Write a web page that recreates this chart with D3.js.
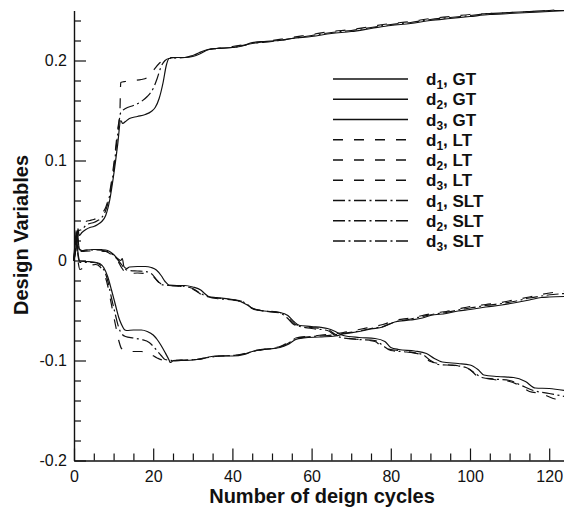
<!DOCTYPE html>
<html>
<head>
<meta charset="utf-8">
<script src="https://cdn.jsdelivr.net/npm/d3@7"></script>
<style>
  html, body { margin: 0; padding: 0; background: #fff; }
  svg { display: block; font-family: "Liberation Sans", Arial, sans-serif; }
</style>
</head>
<body>
<svg id="chart" width="564" height="510"></svg>
<script>
// Design variable histories: [cycle, value]
const d1GT = [[0,0],[0.5,0.012],[1,0.032],[1.3,0.025],[2,0.028],[3,0.031],[4,0.033],[5,0.034],[6,0.036],[7,0.039],[8,0.045],[9,0.06],[10,0.085],[11,0.115],[11.8,0.14],[12.3,0.137],[13,0.139],[14,0.142],[16,0.144],[18,0.146],[19.5,0.149],[20.5,0.153],[21.5,0.162],[22.5,0.178],[23.3,0.195],[24,0.202],[26,0.203],[28,0.203],[30,0.204],[32,0.207],[34,0.211],[36,0.212],[40,0.213],[43,0.215],[45,0.218],[48,0.219],[52,0.220],[55,0.222],[60,0.224],[65,0.227],[70,0.229],[75,0.232],[80,0.235],[85,0.237],[90,0.240],[95,0.242],[100,0.244],[105,0.246],[110,0.247],[115,0.248],[120,0.249],[124,0.250]];
const d1LT = [[0,0],[0.7,0.02],[1.2,0.03],[2,0.033],[3,0.039],[4,0.04],[5,0.041],[6,0.043],[7,0.047],[8,0.053],[9,0.068],[10,0.095],[11,0.13],[11.6,0.15],[11.8,0.178],[13,0.179],[15,0.180],[17,0.181],[18.5,0.183],[20,0.19],[21.5,0.197],[22.5,0.2],[24,0.203],[28,0.203],[30,0.205],[33,0.21],[36,0.212],[40,0.214],[45,0.217],[50,0.220],[55,0.223],[60,0.226],[65,0.229],[70,0.231],[75,0.234],[80,0.237],[85,0.239],[90,0.242],[95,0.244],[100,0.246],[105,0.247],[110,0.248],[115,0.249],[120,0.25],[124,0.251]];
const d1SLT = [[0,0],[0.7,0.02],[1.2,0.03],[2,0.031],[3,0.035],[4,0.037],[5,0.038],[6,0.04],[7,0.043],[8,0.05],[9,0.065],[10,0.09],[11,0.125],[11.8,0.148],[13,0.152],[15,0.155],[17,0.159],[18.5,0.164],[20,0.172],[21,0.182],[22,0.194],[23,0.2],[24,0.202],[28,0.203],[30,0.205],[33,0.210],[36,0.212],[40,0.213],[45,0.217],[50,0.219],[55,0.222],[60,0.225],[65,0.228],[70,0.230],[75,0.233],[80,0.236],[85,0.238],[90,0.241],[95,0.243],[100,0.245],[105,0.247],[110,0.248],[115,0.249],[120,0.25],[124,0.25]];

const d2GT = [[0,0],[0.8,0.03],[1.3,0.012],[2,0.01],[3,0.0105],[5,0.011],[7,0.0108],[8,0.0105],[9,0.009],[10,0.006],[11,0.002],[11.8,0.0],[12.2,0.002],[12.6,-0.006],[13.3,-0.008],[14,-0.0065],[16,-0.006],[18,-0.006],[19.5,-0.007],[20.8,-0.0095],[22,-0.015],[23,-0.021],[24,-0.0245],[26,-0.025],[28,-0.025],[30,-0.0265],[32,-0.0295],[33,-0.033],[34,-0.036],[36,-0.037],[40,-0.039],[42,-0.041],[44,-0.045],[45.5,-0.049],[48,-0.0505],[52,-0.052],[54,-0.055],[55.5,-0.061],[57,-0.065],[60,-0.066],[64,-0.068],[66,-0.071],[68,-0.075],[72,-0.077],[76,-0.078],[78.5,-0.081],[80,-0.087],[82,-0.089],[86,-0.0905],[89,-0.093],[91,-0.098],[93,-0.1015],[97,-0.103],[100,-0.1045],[102,-0.109],[103.5,-0.1145],[107,-0.116],[111,-0.117],[114,-0.121],[116.5,-0.1275],[120,-0.128],[124,-0.13]];
const d2LT = [[0,0],[0.8,0.025],[1.3,0.01],[2,0.009],[4,0.0095],[6,0.0095],[8,0.009],[9,0.007],[10,0.004],[11,0.0],[12,-0.007],[13,-0.012],[14,-0.013],[16,-0.0125],[18,-0.013],[20,-0.016],[21.5,-0.022],[23,-0.025],[26,-0.0255],[29,-0.027],[31,-0.031],[33,-0.036],[36,-0.0375],[40,-0.039],[43,-0.042],[45,-0.048],[48,-0.05],[52,-0.052],[54,-0.057],[56,-0.064],[60,-0.067],[64,-0.069],[66,-0.074],[68,-0.077],[72,-0.079],[76,-0.081],[78,-0.087],[80,-0.089],[84,-0.091],[88,-0.095],[90,-0.101],[94,-0.104],[98,-0.106],[100,-0.109],[102,-0.116],[106,-0.119],[110,-0.121],[113,-0.126],[115,-0.131],[118,-0.133],[121,-0.138],[124,-0.14]];
const d2SLT = [[0,0],[0.8,0.028],[1.3,0.011],[2,0.01],[4,0.0105],[6,0.0105],[8,0.0095],[9,0.008],[10,0.005],[11,0.001],[12,-0.004],[13,-0.009],[14,-0.01],[16,-0.0105],[18,-0.011],[19.5,-0.013],[21,-0.02],[22,-0.024],[24,-0.025],[28,-0.026],[30,-0.028],[32,-0.033],[34,-0.0365],[36,-0.038],[40,-0.0395],[43,-0.042],[45,-0.0475],[48,-0.0505],[52,-0.0525],[54,-0.058],[55.5,-0.064],[60,-0.068],[64,-0.07],[66,-0.075],[68,-0.0775],[72,-0.079],[76,-0.08],[78,-0.085],[80,-0.09],[84,-0.0915],[88,-0.094],[90,-0.1],[92,-0.104],[96,-0.105],[99,-0.107],[101,-0.112],[103,-0.117],[106,-0.1185],[110,-0.12],[113,-0.125],[116,-0.13],[120,-0.133],[124,-0.136]];

const d3GT = [[0,0],[0.5,0.03],[1,0.008],[1.5,-0.0005],[3,-0.001],[5,-0.0015],[6.5,-0.003],[7.5,-0.007],[8.5,-0.016],[9.5,-0.03],[10.5,-0.045],[11.3,-0.057],[12,-0.064],[12.7,-0.069],[13.3,-0.07],[15,-0.0695],[17,-0.0695],[18.5,-0.071],[20,-0.0745],[21,-0.079],[22,-0.085],[23,-0.092],[24,-0.0995],[24.3,-0.102],[25,-0.1005],[27,-0.1],[30,-0.0995],[32,-0.0985],[34,-0.0965],[36,-0.0955],[40,-0.0955],[43,-0.094],[45,-0.091],[48,-0.089],[52,-0.087],[54,-0.084],[56,-0.079],[58,-0.0775],[62,-0.0765],[66,-0.0755],[68,-0.0735],[72,-0.071],[75,-0.0685],[78,-0.0665],[81,-0.0615],[85,-0.0595],[88,-0.0575],[90,-0.055],[94,-0.053],[97,-0.0505],[100,-0.049],[104,-0.0465],[108,-0.0445],[111,-0.0425],[115,-0.0395],[118,-0.037],[120,-0.0365],[124,-0.036]];
const d3LT = [[0,0],[0.5,0.02],[1,0.0],[1.5,-0.009],[2.5,-0.007],[4,-0.005],[5.5,-0.004],[6.5,-0.006],[7.5,-0.012],[8.5,-0.025],[9.5,-0.045],[10.5,-0.065],[11.3,-0.08],[12,-0.088],[13,-0.09],[15,-0.091],[17,-0.091],[19,-0.093],[21,-0.0975],[23,-0.1],[25,-0.1],[28,-0.0995],[31,-0.099],[34,-0.0965],[37,-0.0955],[40,-0.095],[43,-0.093],[45,-0.0905],[48,-0.0885],[52,-0.086],[54,-0.082],[56,-0.0775],[60,-0.0755],[64,-0.074],[68,-0.072],[72,-0.069],[75,-0.0665],[78,-0.064],[81,-0.06],[85,-0.0575],[88,-0.055],[91,-0.0525],[94,-0.051],[97,-0.0485],[100,-0.046],[104,-0.044],[108,-0.042],[111,-0.0395],[115,-0.0365],[118,-0.034],[121,-0.032],[124,-0.0305]];
const d3SLT = [[0,0],[0.5,0.025],[1,0.005],[1.5,-0.002],[3,-0.002],[5,-0.002],[6.5,-0.004],[7.5,-0.009],[8.5,-0.02],[9.5,-0.038],[10.5,-0.055],[11.3,-0.067],[12,-0.073],[13,-0.076],[15,-0.0775],[17,-0.079],[19,-0.082],[20.5,-0.088],[22,-0.095],[23,-0.099],[25,-0.1],[28,-0.0995],[31,-0.099],[34,-0.097],[37,-0.0955],[40,-0.095],[43,-0.0935],[45,-0.091],[48,-0.089],[52,-0.0865],[54,-0.083],[56,-0.078],[60,-0.076],[64,-0.075],[68,-0.073],[72,-0.0705],[75,-0.068],[78,-0.066],[81,-0.0615],[85,-0.0585],[88,-0.056],[91,-0.0535],[94,-0.052],[97,-0.0495],[100,-0.0475],[104,-0.045],[108,-0.043],[111,-0.041],[115,-0.0375],[118,-0.0355],[121,-0.034],[124,-0.033]];

// Tick labels
const xTickValues = [0, 20, 40, 60, 80, 100, 120];
const yTickValues = [-0.2, -0.1, 0, 0.1, 0.2];

const dashStyles = { GT: null, LT: "10,11", SLT: "12,3.5,2,3.5" };

const series = [
  { v: "1", m: "GT", data: d1GT }, { v: "2", m: "GT", data: d2GT }, { v: "3", m: "GT", data: d3GT },
  { v: "1", m: "LT", data: d1LT }, { v: "2", m: "LT", data: d2LT }, { v: "3", m: "LT", data: d3LT },
  { v: "1", m: "SLT", data: d1SLT }, { v: "2", m: "SLT", data: d2SLT }, { v: "3", m: "SLT", data: d3SLT }
];

const svg = d3.select("#chart");
const x = d3.scaleLinear().domain([0, 125]).range([74, 74 + 125 * 3.96]);
const y = d3.scaleLinear().domain([-0.2, 0.25]).range([460.5, 10.5]);

const ink = "#111";

// Minor ticks
const xMinor = d3.range(0, 126, 5).filter(v => v % 20 !== 0);
const yMinor = d3.range(-0.2, 0.2501, 0.02).map(v => +v.toFixed(2)).filter(v => Math.abs(Math.round(v * 10) - v * 10) > 1e-6);

svg.append("g").attr("transform", "translate(0,460.5)")
  .call(d3.axisBottom(x).tickValues(xMinor).tickSize(-7).tickFormat(""))
  .call(g => g.select(".domain").remove())
  .call(g => g.selectAll("line").attr("stroke", ink).attr("stroke-width", 1.2));
svg.append("g").attr("transform", "translate(74,0)")
  .call(d3.axisLeft(y).tickValues(yMinor).tickSize(-7).tickFormat(""))
  .call(g => g.select(".domain").remove())
  .call(g => g.selectAll("line").attr("stroke", ink).attr("stroke-width", 1.2));

// Major axes
const fmtY = d => d === 0 ? "0" : d3.format(".1f")(d).replace("−", "-");
svg.append("g").attr("transform", "translate(0,460.5)")
  .call(d3.axisBottom(x).tickValues(xTickValues).tickSize(-12).tickSizeOuter(0).tickPadding(9.8))
  .call(g => g.selectAll("line").attr("stroke", ink).attr("stroke-width", 1.2))
  .call(g => g.select(".domain").attr("stroke", ink).attr("stroke-width", 1.4))
  .call(g => g.selectAll("text").attr("fill", ink).attr("font-size", 16).attr("font-family", "Liberation Sans, Arial, sans-serif"));
svg.append("g").attr("transform", "translate(74,0)")
  .call(d3.axisLeft(y).tickValues(yTickValues).tickSize(-12).tickSizeOuter(0).tickPadding(7).tickFormat(fmtY))
  .call(g => g.selectAll("line").attr("stroke", ink).attr("stroke-width", 1.2))
  .call(g => g.select(".domain").attr("stroke", ink).attr("stroke-width", 1.4))
  .call(g => g.selectAll("text").attr("fill", ink).attr("font-size", 16).attr("font-family", "Liberation Sans, Arial, sans-serif"));

// Axis titles
svg.append("text").attr("x", 322).attr("y", 503).attr("text-anchor", "middle")
  .attr("font-size", 20).attr("font-weight", "bold").attr("fill", ink)
  .text("Number of deign cycles");
svg.append("text").attr("transform", "translate(28,235) rotate(-90)").attr("text-anchor", "middle")
  .attr("font-size", 20).attr("font-weight", "bold").attr("fill", ink)
  .text("Design Variables");

// Curves
const line = d3.line().x(d => x(d[0])).y(d => y(d[1])).curve(d3.curveMonotoneX);
svg.append("g").selectAll("path").data(series).join("path")
  .attr("d", s => line(s.data))
  .attr("fill", "none").attr("stroke", ink).attr("stroke-width", 1.2)
  .attr("stroke-dasharray", s => dashStyles[s.m]);

// Legend
const legend = svg.append("g");
series.forEach((s, i) => {
  const cy = 79 + i * 20.25;
  legend.append("line").attr("x1", 333).attr("x2", 408).attr("y1", cy).attr("y2", cy)
    .attr("stroke", ink).attr("stroke-width", 1.3).attr("stroke-dasharray", dashStyles[s.m]);
  const t = legend.append("text").attr("x", 426).attr("y", cy + 6)
    .attr("font-size", 17).attr("font-weight", "bold").attr("fill", ink);
  t.append("tspan").text("d");
  t.append("tspan").attr("font-size", 12).attr("dy", 4).text(s.v);
  t.append("tspan").attr("dy", -4).text(", " + s.m);
});
</script>
</body>
</html>
